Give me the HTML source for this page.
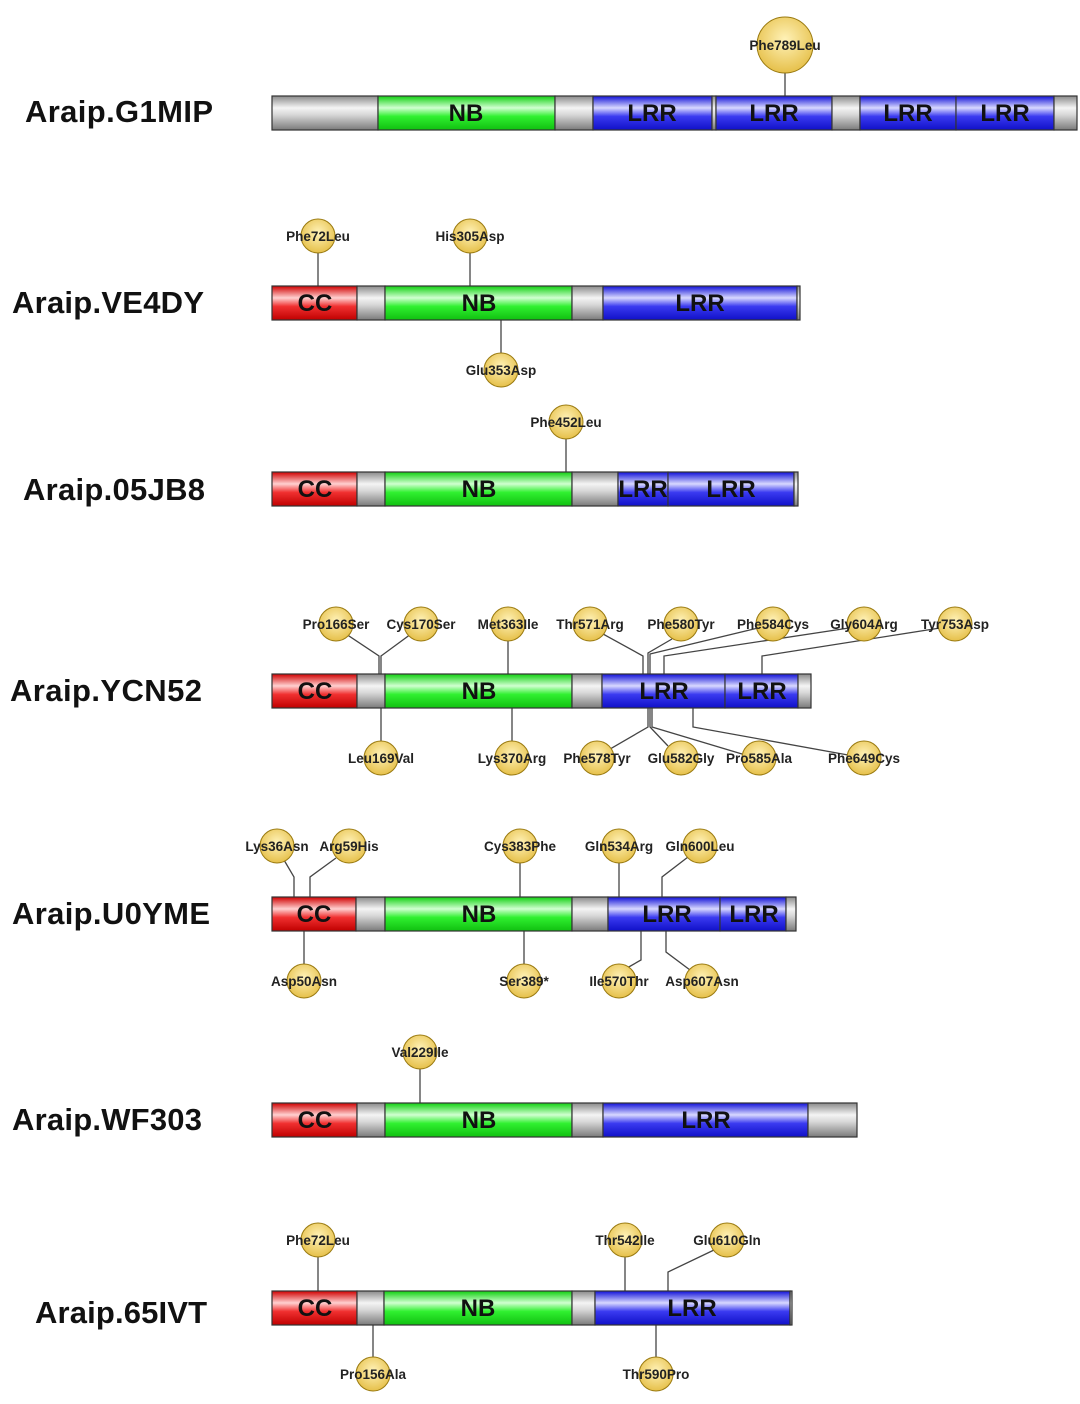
<!DOCTYPE html>
<html><head><meta charset="utf-8"><style>html,body{margin:0;padding:0;background:#fff}svg{display:block}</style></head>
<body>
<svg width="1080" height="1404" viewBox="0 0 1080 1404" xmlns="http://www.w3.org/2000/svg" font-family="Liberation Sans, Arial, sans-serif">
<defs>
<linearGradient id="gg" x1="0" y1="0" x2="0" y2="1"><stop offset="0" stop-color="#8a8a8a"/><stop offset="0.35" stop-color="#f4f4f4"/><stop offset="0.55" stop-color="#d8d8d8"/><stop offset="1" stop-color="#7a7a7a"/></linearGradient>
<linearGradient id="gr" x1="0" y1="0" x2="0" y2="1"><stop offset="0" stop-color="#d00000"/><stop offset="0.35" stop-color="#ffd0d0"/><stop offset="0.6" stop-color="#f03030"/><stop offset="1" stop-color="#c00000"/></linearGradient>
<linearGradient id="gn" x1="0" y1="0" x2="0" y2="1"><stop offset="0" stop-color="#10d010"/><stop offset="0.35" stop-color="#d0ffd0"/><stop offset="0.6" stop-color="#30f030"/><stop offset="1" stop-color="#10c010"/></linearGradient>
<linearGradient id="gb" x1="0" y1="0" x2="0" y2="1"><stop offset="0" stop-color="#1010d8"/><stop offset="0.35" stop-color="#d8d8ff"/><stop offset="0.6" stop-color="#3a3af0"/><stop offset="1" stop-color="#1010c8"/></linearGradient>
<radialGradient id="gc" cx="0.5" cy="0.4" r="0.6"><stop offset="0" stop-color="#fff2b8"/><stop offset="1" stop-color="#e6c04a"/></radialGradient>
</defs>
<style>
.seg{stroke:#333;stroke-width:1.2}
.nm{font-size:31px;font-weight:bold;fill:#111}
.dl{font-size:24px;font-weight:bold;fill:#111;text-anchor:middle}
.ml{font-size:13.5px;font-weight:bold;fill:#222;text-anchor:middle}
.c{fill:url(#gc);stroke:#9a7a10;stroke-width:1}
.ln{stroke:#444;stroke-width:1.3;fill:none}
</style>

<!-- Row 1 -->
<text class="nm" x="25" y="122" textLength="188">Araip.G1MIP</text>
<line class="ln" x1="785" y1="73" x2="785" y2="96"/>
<g>
<rect class="seg" x="272" y="96" width="106" height="34" fill="url(#gg)"/>
<rect class="seg" x="378" y="96" width="177" height="34" fill="url(#gn)"/>
<rect class="seg" x="555" y="96" width="38" height="34" fill="url(#gg)"/>
<rect class="seg" x="593" y="96" width="119" height="34" fill="url(#gb)"/>
<rect class="seg" x="712" y="96" width="4" height="34" fill="url(#gg)"/>
<rect class="seg" x="716" y="96" width="116" height="34" fill="url(#gb)"/>
<rect class="seg" x="832" y="96" width="28" height="34" fill="url(#gg)"/>
<rect class="seg" x="860" y="96" width="96" height="34" fill="url(#gb)"/>
<rect class="seg" x="956" y="96" width="98" height="34" fill="url(#gb)"/>
<rect class="seg" x="1054" y="96" width="23" height="34" fill="url(#gg)"/>
<text class="dl" x="466" y="121">NB</text><text class="dl" x="652" y="121">LRR</text><text class="dl" x="774" y="121">LRR</text><text class="dl" x="908" y="121">LRR</text><text class="dl" x="1005" y="121">LRR</text>
</g>
<circle class="c" cx="785" cy="45" r="28"/><text class="ml" x="785" y="50">Phe789Leu</text>

<!-- Row 2 -->
<text class="nm" x="12" y="313" textLength="192">Araip.VE4DY</text>
<line class="ln" x1="318" y1="250" x2="318" y2="286"/>
<line class="ln" x1="470" y1="250" x2="470" y2="286"/>
<line class="ln" x1="501" y1="320" x2="501" y2="356"/>
<rect class="seg" x="272" y="286" width="85" height="34" fill="url(#gr)"/>
<rect class="seg" x="357" y="286" width="28" height="34" fill="url(#gg)"/>
<rect class="seg" x="385" y="286" width="187" height="34" fill="url(#gn)"/>
<rect class="seg" x="572" y="286" width="31" height="34" fill="url(#gg)"/>
<rect class="seg" x="603" y="286" width="194" height="34" fill="url(#gb)"/>
<rect class="seg" x="797" y="286" width="3" height="34" fill="url(#gg)"/>
<text class="dl" x="315" y="311">CC</text><text class="dl" x="479" y="311">NB</text><text class="dl" x="700" y="311">LRR</text>
<circle class="c" cx="318" cy="236" r="17"/><text class="ml" x="318" y="241">Phe72Leu</text>
<circle class="c" cx="470" cy="236" r="17"/><text class="ml" x="470" y="241">His305Asp</text>
<circle class="c" cx="501" cy="370" r="17"/><text class="ml" x="501" y="375">Glu353Asp</text>

<!-- Row 3 -->
<text class="nm" x="23" y="500" textLength="182">Araip.05JB8</text>
<line class="ln" x1="566" y1="436" x2="566" y2="472"/>
<rect class="seg" x="272" y="472" width="85" height="34" fill="url(#gr)"/>
<rect class="seg" x="357" y="472" width="28" height="34" fill="url(#gg)"/>
<rect class="seg" x="385" y="472" width="187" height="34" fill="url(#gn)"/>
<rect class="seg" x="572" y="472" width="46" height="34" fill="url(#gg)"/>
<rect class="seg" x="618" y="472" width="50" height="34" fill="url(#gb)"/>
<rect class="seg" x="668" y="472" width="126" height="34" fill="url(#gb)"/>
<rect class="seg" x="794" y="472" width="4" height="34" fill="url(#gg)"/>
<text class="dl" x="315" y="497">CC</text><text class="dl" x="479" y="497">NB</text><text class="dl" x="643" y="497">LRR</text><text class="dl" x="731" y="497">LRR</text>
<circle class="c" cx="566" cy="422" r="17"/><text class="ml" x="566" y="427">Phe452Leu</text>

<!-- Row 4 -->
<text class="nm" x="10" y="701" textLength="192">Araip.YCN52</text>
<polyline class="ln" points="346,634 379,656 379,674"/>
<polyline class="ln" points="411,634 381,656 381,674"/>
<line class="ln" x1="508" y1="638" x2="508" y2="674"/>
<polyline class="ln" points="603,634 643,656 643,674"/>
<polyline class="ln" points="672,639 648,653 648,674"/>
<polyline class="ln" points="758,628 650,654 650,674"/>
<polyline class="ln" points="849,628 664,656 664,674"/>
<polyline class="ln" points="940,628 762,656 762,674"/>
<line class="ln" x1="381" y1="708" x2="381" y2="744"/>
<line class="ln" x1="512" y1="708" x2="512" y2="744"/>
<polyline class="ln" points="648,708 648,727 610,749"/>
<polyline class="ln" points="650,708 650,727 668,746"/>
<polyline class="ln" points="652,708 652,727 742,754"/>
<polyline class="ln" points="693,708 693,727 848,755"/>
<rect class="seg" x="272" y="674" width="85" height="34" fill="url(#gr)"/>
<rect class="seg" x="357" y="674" width="28" height="34" fill="url(#gg)"/>
<rect class="seg" x="385" y="674" width="187" height="34" fill="url(#gn)"/>
<rect class="seg" x="572" y="674" width="30" height="34" fill="url(#gg)"/>
<rect class="seg" x="602" y="674" width="123" height="34" fill="url(#gb)"/>
<rect class="seg" x="725" y="674" width="73" height="34" fill="url(#gb)"/>
<rect class="seg" x="798" y="674" width="13" height="34" fill="url(#gg)"/>
<text class="dl" x="315" y="699">CC</text><text class="dl" x="479" y="699">NB</text><text class="dl" x="664" y="699">LRR</text><text class="dl" x="762" y="699">LRR</text>
<circle class="c" cx="336" cy="624" r="17"/><text class="ml" x="336" y="629">Pro166Ser</text>
<circle class="c" cx="421" cy="624" r="17"/><text class="ml" x="421" y="629">Cys170Ser</text>
<circle class="c" cx="508" cy="624" r="17"/><text class="ml" x="508" y="629">Met363Ile</text>
<circle class="c" cx="590" cy="624" r="17"/><text class="ml" x="590" y="629">Thr571Arg</text>
<circle class="c" cx="681" cy="624" r="17"/><text class="ml" x="681" y="629">Phe580Tyr</text>
<circle class="c" cx="773" cy="624" r="17"/><text class="ml" x="773" y="629">Phe584Cys</text>
<circle class="c" cx="864" cy="624" r="17"/><text class="ml" x="864" y="629">Gly604Arg</text>
<circle class="c" cx="955" cy="624" r="17"/><text class="ml" x="955" y="629">Tyr753Asp</text>
<circle class="c" cx="381" cy="758" r="17"/><text class="ml" x="381" y="763">Leu169Val</text>
<circle class="c" cx="512" cy="758" r="17"/><text class="ml" x="512" y="763">Lys370Arg</text>
<circle class="c" cx="597" cy="758" r="17"/><text class="ml" x="597" y="763">Phe578Tyr</text>
<circle class="c" cx="681" cy="758" r="17"/><text class="ml" x="681" y="763">Glu582Gly</text>
<circle class="c" cx="759" cy="758" r="17"/><text class="ml" x="759" y="763">Pro585Ala</text>
<circle class="c" cx="864" cy="758" r="17"/><text class="ml" x="864" y="763">Phe649Cys</text>

<!-- Row 5 -->
<text class="nm" x="12" y="924" textLength="198">Araip.U0YME</text>
<polyline class="ln" points="284,860 294,877 294,897"/>
<polyline class="ln" points="336,858 310,877 310,897"/>
<line class="ln" x1="520" y1="860" x2="520" y2="897"/>
<line class="ln" x1="619" y1="860" x2="619" y2="897"/>
<polyline class="ln" points="688,857 662,877 662,897"/>
<line class="ln" x1="304" y1="931" x2="304" y2="967"/>
<line class="ln" x1="524" y1="931" x2="524" y2="967"/>
<polyline class="ln" points="641,931 641,960 627,968"/>
<polyline class="ln" points="666,931 666,952 690,970"/>
<rect class="seg" x="272" y="897" width="84" height="34" fill="url(#gr)"/>
<rect class="seg" x="356" y="897" width="29" height="34" fill="url(#gg)"/>
<rect class="seg" x="385" y="897" width="187" height="34" fill="url(#gn)"/>
<rect class="seg" x="572" y="897" width="36" height="34" fill="url(#gg)"/>
<rect class="seg" x="608" y="897" width="112" height="34" fill="url(#gb)"/>
<rect class="seg" x="720" y="897" width="66" height="34" fill="url(#gb)"/>
<rect class="seg" x="786" y="897" width="10" height="34" fill="url(#gg)"/>
<text class="dl" x="314" y="922">CC</text><text class="dl" x="479" y="922">NB</text><text class="dl" x="667" y="922">LRR</text><text class="dl" x="754" y="922">LRR</text>
<circle class="c" cx="277" cy="846" r="17"/><text class="ml" x="277" y="851">Lys36Asn</text>
<circle class="c" cx="349" cy="846" r="17"/><text class="ml" x="349" y="851">Arg59His</text>
<circle class="c" cx="520" cy="846" r="17"/><text class="ml" x="520" y="851">Cys383Phe</text>
<circle class="c" cx="619" cy="846" r="17"/><text class="ml" x="619" y="851">Gln534Arg</text>
<circle class="c" cx="700" cy="846" r="17"/><text class="ml" x="700" y="851">Gln600Leu</text>
<circle class="c" cx="304" cy="981" r="17"/><text class="ml" x="304" y="986">Asp50Asn</text>
<circle class="c" cx="524" cy="981" r="17"/><text class="ml" x="524" y="986">Ser389*</text>
<circle class="c" cx="619" cy="981" r="17"/><text class="ml" x="619" y="986">Ile570Thr</text>
<circle class="c" cx="702" cy="981" r="17"/><text class="ml" x="702" y="986">Asp607Asn</text>

<!-- Row 6 -->
<text class="nm" x="12" y="1130" textLength="190">Araip.WF303</text>
<line class="ln" x1="420" y1="1066" x2="420" y2="1103"/>
<rect class="seg" x="272" y="1103" width="85" height="34" fill="url(#gr)"/>
<rect class="seg" x="357" y="1103" width="28" height="34" fill="url(#gg)"/>
<rect class="seg" x="385" y="1103" width="187" height="34" fill="url(#gn)"/>
<rect class="seg" x="572" y="1103" width="31" height="34" fill="url(#gg)"/>
<rect class="seg" x="603" y="1103" width="205" height="34" fill="url(#gb)"/>
<rect class="seg" x="808" y="1103" width="49" height="34" fill="url(#gg)"/>
<text class="dl" x="315" y="1128">CC</text><text class="dl" x="479" y="1128">NB</text><text class="dl" x="706" y="1128">LRR</text>
<circle class="c" cx="420" cy="1052" r="17"/><text class="ml" x="420" y="1057">Val229Ile</text>

<!-- Row 7 -->
<text class="nm" x="35" y="1323" textLength="172">Araip.65IVT</text>
<line class="ln" x1="318" y1="1254" x2="318" y2="1291"/>
<line class="ln" x1="625" y1="1254" x2="625" y2="1291"/>
<polyline class="ln" points="714,1250 668,1272 668,1291"/>
<line class="ln" x1="373" y1="1325" x2="373" y2="1360"/>
<line class="ln" x1="656" y1="1325" x2="656" y2="1360"/>
<rect class="seg" x="272" y="1291" width="85" height="34" fill="url(#gr)"/>
<rect class="seg" x="357" y="1291" width="27" height="34" fill="url(#gg)"/>
<rect class="seg" x="384" y="1291" width="188" height="34" fill="url(#gn)"/>
<rect class="seg" x="572" y="1291" width="23" height="34" fill="url(#gg)"/>
<rect class="seg" x="595" y="1291" width="195" height="34" fill="url(#gb)"/>
<rect class="seg" x="790" y="1291" width="2" height="34" fill="url(#gg)"/>
<text class="dl" x="315" y="1316">CC</text><text class="dl" x="478" y="1316">NB</text><text class="dl" x="692" y="1316">LRR</text>
<circle class="c" cx="318" cy="1240" r="17"/><text class="ml" x="318" y="1245">Phe72Leu</text>
<circle class="c" cx="625" cy="1240" r="17"/><text class="ml" x="625" y="1245">Thr542Ile</text>
<circle class="c" cx="727" cy="1240" r="17"/><text class="ml" x="727" y="1245">Glu610Gln</text>
<circle class="c" cx="373" cy="1374" r="17"/><text class="ml" x="373" y="1379">Pro156Ala</text>
<circle class="c" cx="656" cy="1374" r="17"/><text class="ml" x="656" y="1379">Thr590Pro</text>
</svg>
</body></html>
